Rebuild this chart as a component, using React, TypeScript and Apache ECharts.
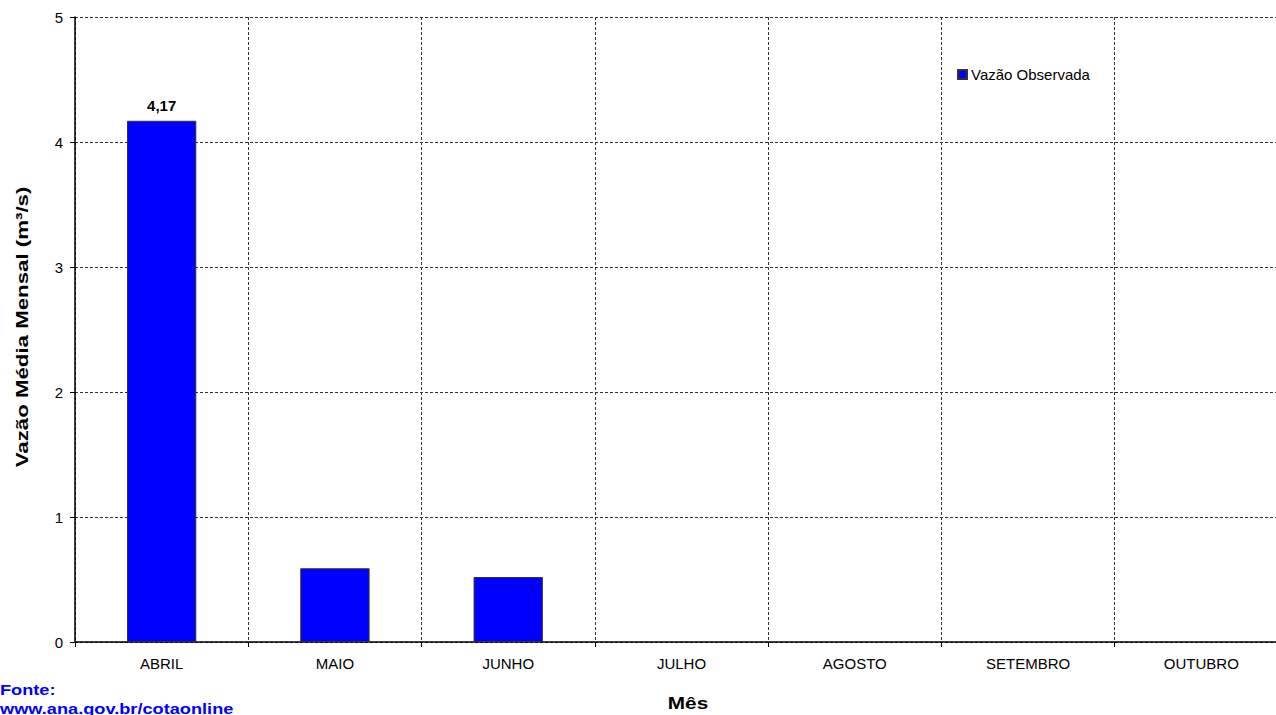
import React, { useEffect, useRef } from "react";
import * as echarts from "echarts";

const categories = ["ABRIL", "MAIO", "JUNHO", "JULHO", "AGOSTO", "SETEMBRO", "OUTUBRO"];
const vazaoObservada: (number | null)[] = [4.17, 0.59, 0.52, null, null, null, null];
const labeledMonths = ["ABRIL"];
const yTicks = [0, 1, 2, 3, 4, 5];
const yAxisTitle = "Vazão Média Mensal (m³/s)";
const xAxisTitle = "Mês";
const sourceLines = ["Fonte:", "www.ana.gov.br/cotaonline"];

const FONT = "'Liberation Sans', Arial, sans-serif";

export default function App() {
  const ref = useRef<HTMLDivElement>(null);
  useEffect(() => {
    if (!ref.current) return;
    document.body.style.margin = "0";
    document.body.style.overflow = "hidden";
    const chart = echarts.init(ref.current, undefined, { renderer: "svg" });
    chart.setOption({
      animation: false,
      backgroundColor: "#ffffff",
      textStyle: { fontFamily: FONT },
      grid: {
        left: 75,
        top: 17,
        width: 1213,
        height: 625,
        containLabel: false,
        outerBoundsMode: "none",
      },
      legend: {
        data: ["Vazão Observada"],
        left: 952,
        top: 62,
        itemWidth: 9,
        itemHeight: 9,
        itemGap: 4,
        textStyle: { fontFamily: FONT, fontSize: 15, color: "#000", padding: [0, 0, 0, -1] },
        icon: "rect",
      },
      xAxis: {
        type: "category",
        data: categories,
        boundaryGap: true,
        axisLine: { lineStyle: { color: "#000", width: 1.5 } },
        axisTick: { show: true, alignWithLabel: false, length: 5, lineStyle: { color: "#000" } },
        axisLabel: { fontFamily: FONT, fontSize: 15, color: "#000", margin: 14 },
        splitLine: { show: true, lineStyle: { color: "#333", type: [3, 2], width: 1 } },
      },
      yAxis: {
        type: "value",
        min: yTicks[0],
        max: yTicks[yTicks.length - 1],
        interval: 1,
        axisLine: { show: true, lineStyle: { color: "#000", width: 1.5 } },
        axisTick: { show: true, length: 5, lineStyle: { color: "#000" } },
        axisLabel: { fontFamily: FONT, fontSize: 15, color: "#000", margin: 12 },
        splitLine: { show: true, lineStyle: { color: "#333", type: [3, 2], width: 1 } },
      },
      series: [
        {
          name: "Vazão Observada",
          type: "bar",
          barWidth: "40%",
          itemStyle: { color: "#0000FF", borderColor: "#333", borderWidth: 1 },
          data: vazaoObservada.map((v, i) => ({
            value: v === null ? "-" : v,
            label: {
              show: labeledMonths.includes(categories[i]),
              position: "top",
              distance: 8,
              fontFamily: FONT,
              fontSize: 15,
              fontWeight: "bold",
              color: "#000",
              formatter: (p: any) => String(p.value).replace(".", ","),
            },
          })),
        },
      ],
      graphic: [
        {
          type: "text",
          x: 22,
          y: 327,
          rotation: Math.PI / 2,
          scaleX: 1.31,
          style: {
            text: yAxisTitle,
            font: `bold 17px ${FONT}`,
            fill: "#000",
            textAlign: "center",
            textVerticalAlign: "middle",
          },
        },
        {
          type: "text",
          x: 688,
          y: 703,
          scaleX: 1.3,
          style: {
            text: xAxisTitle,
            font: `bold 16px ${FONT}`,
            fill: "#000",
            textAlign: "center",
            textVerticalAlign: "middle",
          },
        },
        {
          type: "text",
          x: 0,
          y: 683,
          scaleX: 1.3,
          style: {
            text: sourceLines[0],
            font: `bold 14px ${FONT}`,
            fill: "#0000FF",
            textAlign: "left",
            textVerticalAlign: "top",
          },
        },
        {
          type: "text",
          x: 0,
          y: 702,
          scaleX: 1.3,
          style: {
            text: sourceLines[1],
            font: `bold 14px ${FONT}`,
            fill: "#0000FF",
            textAlign: "left",
            textVerticalAlign: "top",
          },
        },
      ],
    });
    return () => chart.dispose();
  }, []);
  return (
    <div
      ref={ref}
      style={{ position: "fixed", left: 0, top: 0, width: 1276, height: 715, overflow: "hidden" }}
    />
  );
}
